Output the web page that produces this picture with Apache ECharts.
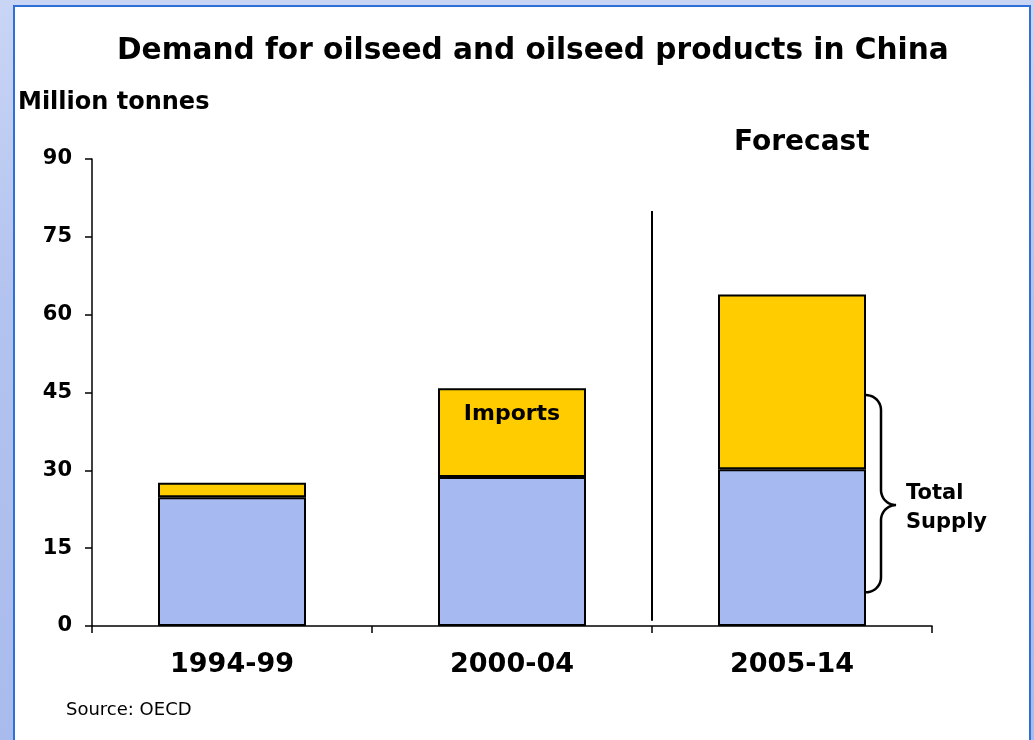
<!DOCTYPE html>
<html><head><meta charset="utf-8">
<script src="https://cdn.jsdelivr.net/npm/echarts@6/dist/echarts.min.js"></script>
<style>
html,body{margin:0;padding:0;width:1034px;height:740px;overflow:hidden;
background:linear-gradient(180deg,#c9d5f5 0%,#b3c3ef 40%,#a9bbec 100%);}
#c{position:absolute;left:0;top:0;width:1034px;height:740px;}
</style></head><body>
<div id="c"></div>
<script>
const categories = ['1994-99','2000-04','2005-14'];
const domesticSupply = [24.8, 28.7, 30.2];
const imports = [2.8, 17.1, 33.7];
const yTicks = [0,15,30,45,60,75,90];
const forecastLineX = 2;      // boundary between 2nd and 3rd category
const forecastLineY = [1, 80];
const braceRange = [6.5, 44.5]; // Total Supply brace extent
const braceTip = 23.3;

const FONT = 'DejaVu Sans';
const chart = echarts.init(document.getElementById('c'), null, {renderer:'canvas'});
const option = {
  backgroundColor: 'transparent',
  animation: false,
  textStyle: {fontFamily: FONT},
  grid: {left: 92, right: 102, top: 159, bottom: 114, containLabel: false},
  title: [
    {text: 'Demand for oilseed and oilseed products in China', left: 112, top: 31,
     textStyle: {fontFamily: FONT, fontSize: 29.6, fontWeight: 'bold', color: '#000'}},
    {text: 'Million tonnes', left: 13, top: 86,
     textStyle: {fontFamily: FONT, fontSize: 24, fontWeight: 'bold', color: '#000'}},
    {text: 'Forecast', left: 729, top: 124,
     textStyle: {fontFamily: FONT, fontSize: 28, fontWeight: 'bold', color: '#000'}},
    {text: 'Source: OECD', left: 61, top: 696,
     textStyle: {fontFamily: FONT, fontSize: 18, fontWeight: 'normal', color: '#000'}},
    {text: 'Total\nSupply', left: 901, top: 474,
     textStyle: {fontFamily: FONT, fontSize: 21, fontWeight: 'bold', color: '#000', lineHeight: 29}}
  ],
  xAxis: [
    {type: 'category', data: categories,
     axisLine: {lineStyle: {color: '#000', width: 1.5}},
     axisTick: {show: true, alignWithLabel: false, length: 7, lineStyle: {color: '#000', width: 1.5}},
     axisLabel: {fontFamily: FONT, fontSize: 27, fontWeight: 'bold', color: '#000', margin: 25},
     splitLine: {show: false}},
    {type: 'value', min: 0, max: 3, show: false}
  ],
  yAxis: {
    type: 'value', min: yTicks[0], max: yTicks[yTicks.length-1], interval: 15,
    axisLine: {show: true, lineStyle: {color: '#000', width: 1.5}},
    axisTick: {show: true, length: 7, lineStyle: {color: '#000', width: 1.5}},
    axisLabel: {fontFamily: FONT, fontSize: 21, fontWeight: 'bold', color: '#000', margin: 20},
    splitLine: {show: false}
  },
  series: [
    {name: 'Domestic', type: 'bar', stack: 'total', data: domesticSupply, barWidth: 148,
     itemStyle: {color: '#a6b9f1', borderColor: '#000', borderWidth: 2}},
    {name: 'Imports', type: 'bar', stack: 'total', data: imports, barWidth: 148,
     itemStyle: {color: '#ffcc00', borderColor: '#000', borderWidth: 2},
     label: {show: true, formatter: p => p.dataIndex === 1 ? 'Imports' : '', position: 'insideTop',
             distance: 15, fontFamily: FONT, fontSize: 22, fontWeight: 'bold', color: '#000'}},
    {type: 'line', xAxisIndex: 1, data: [[forecastLineX, forecastLineY[0]], [forecastLineX, forecastLineY[1]]],
     symbol: 'none', lineStyle: {color: '#000', width: 2}, silent: true}
  ]
};
chart.setOption(option);

// panel background + brace annotation
const elems = [
  {type: 'rect', z: -10, silent: true, shape: {x: 14, y: 6, width: 1016, height: 740},
   style: {fill: '#fff', stroke: '#2e6fd8', lineWidth: 2}}
];
const xEdge = chart.convertToPixel({xAxisIndex: 0, yAxisIndex: 0}, [2, 0])[0] + 148/2;
const yTop = chart.convertToPixel({yAxisIndex: 0}, braceRange[1]);
const yBot = chart.convertToPixel({yAxisIndex: 0}, braceRange[0]);
const yMid = chart.convertToPixel({yAxisIndex: 0}, braceTip);
const r = 15;
function arcPts(cx, cy, a0, a1) {
  const pts = [];
  for (let i = 0; i <= 12; i++) {
    const a = a0 + (a1 - a0) * i / 12;
    pts.push([cx + r * Math.cos(a), cy + r * Math.sin(a)]);
  }
  return pts;
}
const x0 = xEdge, xs = xEdge + r; // vertical stroke x
let pts = [];
pts = pts.concat(arcPts(x0, yTop + r, -Math.PI/2, 0));          // top curl
pts = pts.concat(arcPts(xs + r, yMid - r, Math.PI, Math.PI/2)); // into tip
pts = pts.concat(arcPts(xs + r, yMid + r, -Math.PI/2, -Math.PI)); // out of tip
pts = pts.concat(arcPts(x0, yBot - r, 0, Math.PI/2));           // bottom curl
elems.push({type: 'polyline', silent: true, shape: {points: pts},
  style: {fill: null, stroke: '#000', lineWidth: 2.5}});
chart.setOption({graphic: elems});
</script>
</body></html>
